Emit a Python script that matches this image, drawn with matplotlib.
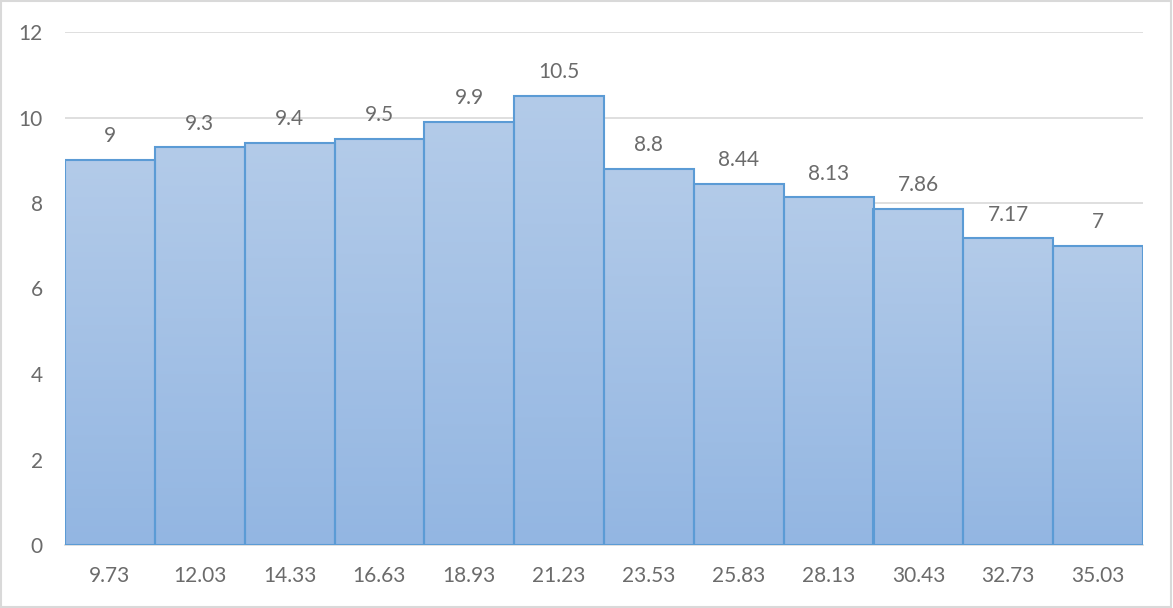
import numpy as np
import matplotlib.pyplot as plt
from matplotlib.colors import LinearSegmentedColormap
from matplotlib.patches import Rectangle

categories = ['9.73', '12.03', '14.33', '16.63', '18.93', '21.23',
              '23.53', '25.83', '28.13', '30.43', '32.73', '35.03']
values = [9, 9.3, 9.4, 9.5, 9.9, 10.5, 8.8, 8.44, 8.13, 7.86, 7.17, 7]
labels = ['9', '9.3', '9.4', '9.5', '9.9', '10.5', '8.8', '8.44', '8.13', '7.86', '7.17', '7']

plt.rcParams['font.family'] = ['Lato', 'DejaVu Sans']
text_color = '#6b6b6b'

fig = plt.figure(figsize=(11.73, 6.08), dpi=100)
ax = fig.add_axes([65 / 1173, 63 / 608, 1078 / 1173, 513 / 608])

# light-to-darker vertical gradient for each bar
grad = LinearSegmentedColormap.from_list('bar', ['#93b6e2', '#b3cbe9'])
ramp = np.linspace(0, 1, 256).reshape(-1, 1)

x = np.arange(len(values))
bars = ax.bar(x, values, width=1.0, color='none', edgecolor='#5b9bd5',
              linewidth=1.5, zorder=3)
for b in bars:
    x0, y0 = b.get_x(), b.get_y()
    w, h = b.get_width(), b.get_height()
    im = ax.imshow(ramp, cmap=grad, aspect='auto', origin='lower',
                   extent=[x0, x0 + w, y0, y0 + h], zorder=2)
    im.set_clip_path(Rectangle((x0, y0), w, h, transform=ax.transData))

for xi, v, lab in zip(x, values, labels):
    ax.annotate(lab, (xi, v), xytext=(0, 10), textcoords='offset points',
                ha='center', va='bottom', fontsize=15, color=text_color)

ax.set_xlim(-0.5, len(values) - 0.5)
ax.set_ylim(0, 12)
ax.set_yticks(range(0, 13, 2))
ax.set_xticks(x)
ax.set_xticklabels(categories)
ax.tick_params(length=0, labelsize=15, labelcolor=text_color)
ax.tick_params(axis='x', pad=15)
ax.tick_params(axis='y', pad=16)
ax.grid(axis='y', color='#d9d9d9', linewidth=1.2, zorder=0)
ax.set_axisbelow(True)
for s in ['top', 'right', 'left']:
    ax.spines[s].set_visible(False)
ax.spines['bottom'].set_color('#d9d9d9')
ax.spines['bottom'].set_linewidth(1.2)

# outer chart border
fig.add_artist(Rectangle((0.001, 0.002), 0.997, 0.996, transform=fig.transFigure,
                         fill=False, edgecolor='#d9d9d9', linewidth=1.5))

fig.savefig('out.png', dpi=100)
